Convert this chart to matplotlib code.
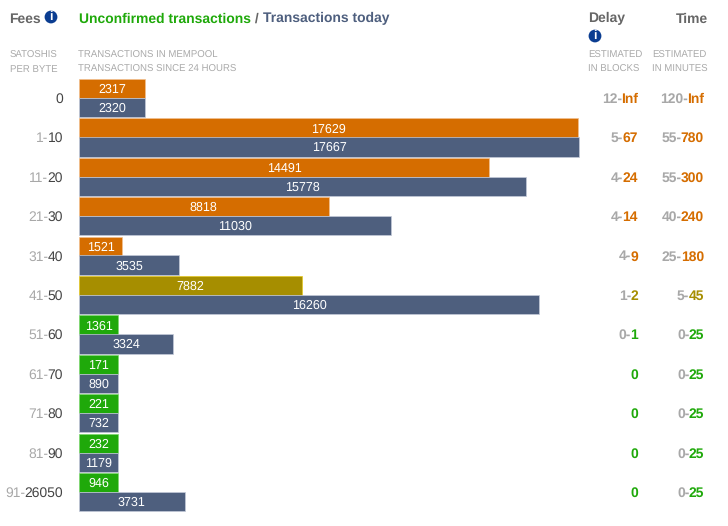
import matplotlib
matplotlib.use("Agg")
import matplotlib.pyplot as plt
from matplotlib.patches import Circle
import numpy as np

plt.rcParams["font.family"] = ["Liberation Sans", "DejaVu Sans"]
plt.rcParams["text.hinting"] = "no_hinting"

W, H = 728, 526

# fee ranges, gray part and dark part
fee_low = ["", "1-", "11-", "21-", "31-", "41-", "51-", "61-", "71-", "81-", "91-"]
fee_high = ["0", "10", "20", "30", "40", "50", "60", "70", "80", "90", "26050"]

mempool = [2317, 17629, 14491, 8818, 1521, 7882, 1361, 171, 221, 232, 946]
today = [2320, 17667, 15778, 11030, 3535, 16260, 3324, 890, 732, 1179, 3731]

delay_low = ["12-", "5-", "4-", "4-", "4-", "1-", "0-", "", "", "", ""]
delay_high = ["Inf", "67", "24", "14", "9", "2", "1", "0", "0", "0", "0"]
time_low = ["120-", "55-", "55-", "40-", "25-", "5-", "0-", "0-", "0-", "0-", "0-"]
time_high = ["Inf", "780", "300", "240", "180", "45", "25", "25", "25", "25", "25"]

status = ["slow", "slow", "slow", "slow", "slow", "mid", "fast", "fast", "fast", "fast", "fast"]

fill = {"slow": "#d56d00", "mid": "#a68e00", "fast": "#1fa90a"}
edge = {"slow": "#f2c08f", "mid": "#e6c820", "fast": "#7fd870"}
navy = "#4e5f7e"
navy_edge = "#c3cad8"
gray = "#a8a8a8"
dark = "#444444"
head = "#666666"
small = "#aaaaaa"
min_width = 1378  # short bars keep room for their label

fig = plt.figure(figsize=(W / 100, H / 100), dpi=100)
ax = fig.add_axes([79 / W, 1 - 513 / H, 500 / W, (513 - 79) / H])
ax.set_xlim(0, 17667)
ax.set_ylim(10.53, -0.482)
ax.axis("off")

y = np.arange(len(mempool))
w1 = np.maximum(mempool, min_width)
w2 = np.maximum(today, min_width)

ax.barh(y - 0.24, w1, height=0.49, color=[fill[s] for s in status],
        edgecolor=[edge[s] for s in status], linewidth=0.5, clip_on=False)
ax.barh(y + 0.24, w2, height=0.49, color=navy, edgecolor=navy_edge,
        linewidth=0.5, clip_on=False)

for i in range(len(y)):
    ax.text(w1[i] / 2, i - 0.21, str(mempool[i]), color="white", fontsize=9,
            ha="center", va="center")
    ax.text(w2[i] / 2, i + 0.265, str(today[i]), color="white", fontsize=9,
            ha="center", va="center")


def put(x, py, s, **kw):
    kw.setdefault("va", "baseline")
    return fig.text(x / W, 1 - py / H, s, **kw)


def pair_right(x, py, low, high, c_low, c_high, **kw):
    # two coloured pieces ending at pixel x
    t = put(x, py, high, color=c_high, ha="right", **kw)
    if low:
        bb = t.get_window_extent(fig.canvas.get_renderer())
        put(bb.x0 + 0.8, py, low, color=c_low, ha="right", **kw)


def pair_left(x, py, parts, **kw):
    for s, c in parts:
        t = put(x, py, s, color=c, ha="left", **kw)
        x = t.get_window_extent(fig.canvas.get_renderer()).x1


def info(cx, cy):
    fig.add_artist(Circle((cx, H - cy), 6.4, transform=None, color="#0b3d91", lw=0))
    fig.text(cx / W, 1 - cy / H, "i", color="white", fontsize=9, fontweight="bold",
             ha="center", va="center")


for i in range(len(y)):
    base = 98 + 39.4 * i + 4.8
    pair_right(63, base, fee_low[i], fee_high[i], gray, dark, fontsize=10)
    c = fill[status[i]]
    pair_right(638, base, delay_low[i], delay_high[i], gray, c, fontsize=10, fontweight="bold")
    pair_right(704, base, time_low[i], time_high[i], gray, c, fontsize=10, fontweight="bold")

# headers
put(9.5, 22.5, "Fees", color=head, fontsize=10, fontweight="bold")
info(51, 17)
pair_left(79, 22.5, [("Unconfirmed transactions", "#1fa90a"), (" / ", head),
                     ("Transactions today", navy)], fontsize=10, fontweight="bold")
put(588.5, 22.5, "Delay", color=head, fontsize=10, fontweight="bold")
put(708, 22.5, "Time", color=head, fontsize=10, fontweight="bold", ha="right")
info(595, 36)

for x, a, b in [(9.5, "SATOSHIS", "PER BYTE"),
                (78.5, "TRANSACTIONS IN MEMPOOL", "TRANSACTIONS SINCE 24 HOURS"),
                (588.5, "ESTIMATED", "IN BLOCKS"),
                (652.5, "ESTIMATED", "IN MINUTES")]:
    put(x, 58, a, color=small, fontsize=6.9)
    put(x, 72, b, color=small, fontsize=6.9)

fig.savefig("out.png", dpi=100)
